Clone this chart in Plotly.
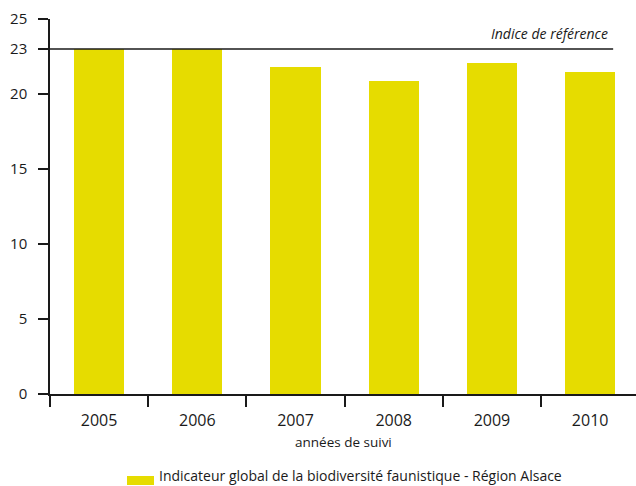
import plotly.graph_objects as go

# Suivi annuel de l'indicateur
years = ["2005", "2006", "2007", "2008", "2009", "2010"]
indicator = [23.0, 23.0, 21.8, 20.9, 22.1, 21.5]
reference_index = 23
series_name = "Indicateur global de la biodiversité faunistique - Région Alsace"
y_ticks = [0, 5, 10, 15, 20, 23, 25]

BAR_COLOR = "#e6dc00"
INK = "#1a1a1a"
FONT = "Open Sans"

fig = go.Figure()
fig.add_trace(go.Bar(
    x=years, y=indicator, name=series_name,
    marker=dict(color=BAR_COLOR, line=dict(width=0)),
    width=0.51, showlegend=False,
))

# Ligne de l'indice de référence
fig.add_shape(type="line", xref="paper", yref="y",
              x0=0, x1=0.961, y0=reference_index, y1=reference_index,
              line=dict(color=INK, width=1.5))
fig.add_annotation(text="<i>Indice de référence</i>", xref="paper", yref="y",
                   x=0.955, y=reference_index, xanchor="right", yanchor="bottom",
                   yshift=4, showarrow=False,
                   font=dict(family=FONT, size=14, color=INK))

# Titre de l'axe des abscisses
fig.add_annotation(text="années de suivi", xref="paper", yref="paper",
                   x=0.5, y=0, yshift=-48, xanchor="center", yanchor="middle",
                   showarrow=False, font=dict(family=FONT, size=13.5, color=INK))

# Légende : pavé de couleur et libellé de la série
fig.add_shape(type="rect", xref="paper", yref="paper",
              x0=(127 - 50) / 586, x1=(154 - 50) / 586,
              y0=-91 / 375, y1=-82 / 375,
              fillcolor=BAR_COLOR, line=dict(width=0))
fig.add_annotation(text=series_name, xref="paper", yref="paper",
                   x=(157 - 50) / 586, y=-81 / 375, xanchor="left", yanchor="middle",
                   showarrow=False, font=dict(family=FONT, size=14, color=INK))

fig.update_layout(
    width=636, height=486,
    margin=dict(l=50, r=0, t=19, b=92),
    plot_bgcolor="white", paper_bgcolor="white",
    font=dict(family=FONT, size=15, color=INK),
    showlegend=False,
    bargap=0,
)
fig.update_xaxes(
    type="category", range=[-0.5, 5.467],
    showline=True, linecolor=INK, linewidth=1.5,
    ticks="outside", tickson="boundaries", ticklen=11, tickwidth=1.5, tickcolor=INK,
    ticklabelstandoff=11,
    showgrid=False, zeroline=False,
    tickfont=dict(family=FONT, size=16),
)
fig.update_yaxes(
    range=[0, 25], tickvals=y_ticks, ticktext=[str(v) for v in y_ticks],
    showline=True, linecolor=INK, linewidth=1.5,
    ticks="outside", ticklen=10, tickwidth=1.5, tickcolor=INK,
    ticklabelstandoff=8,
    showgrid=False, zeroline=False,
    tickfont=dict(family=FONT, size=15),
)

fig.write_html("out.html")
